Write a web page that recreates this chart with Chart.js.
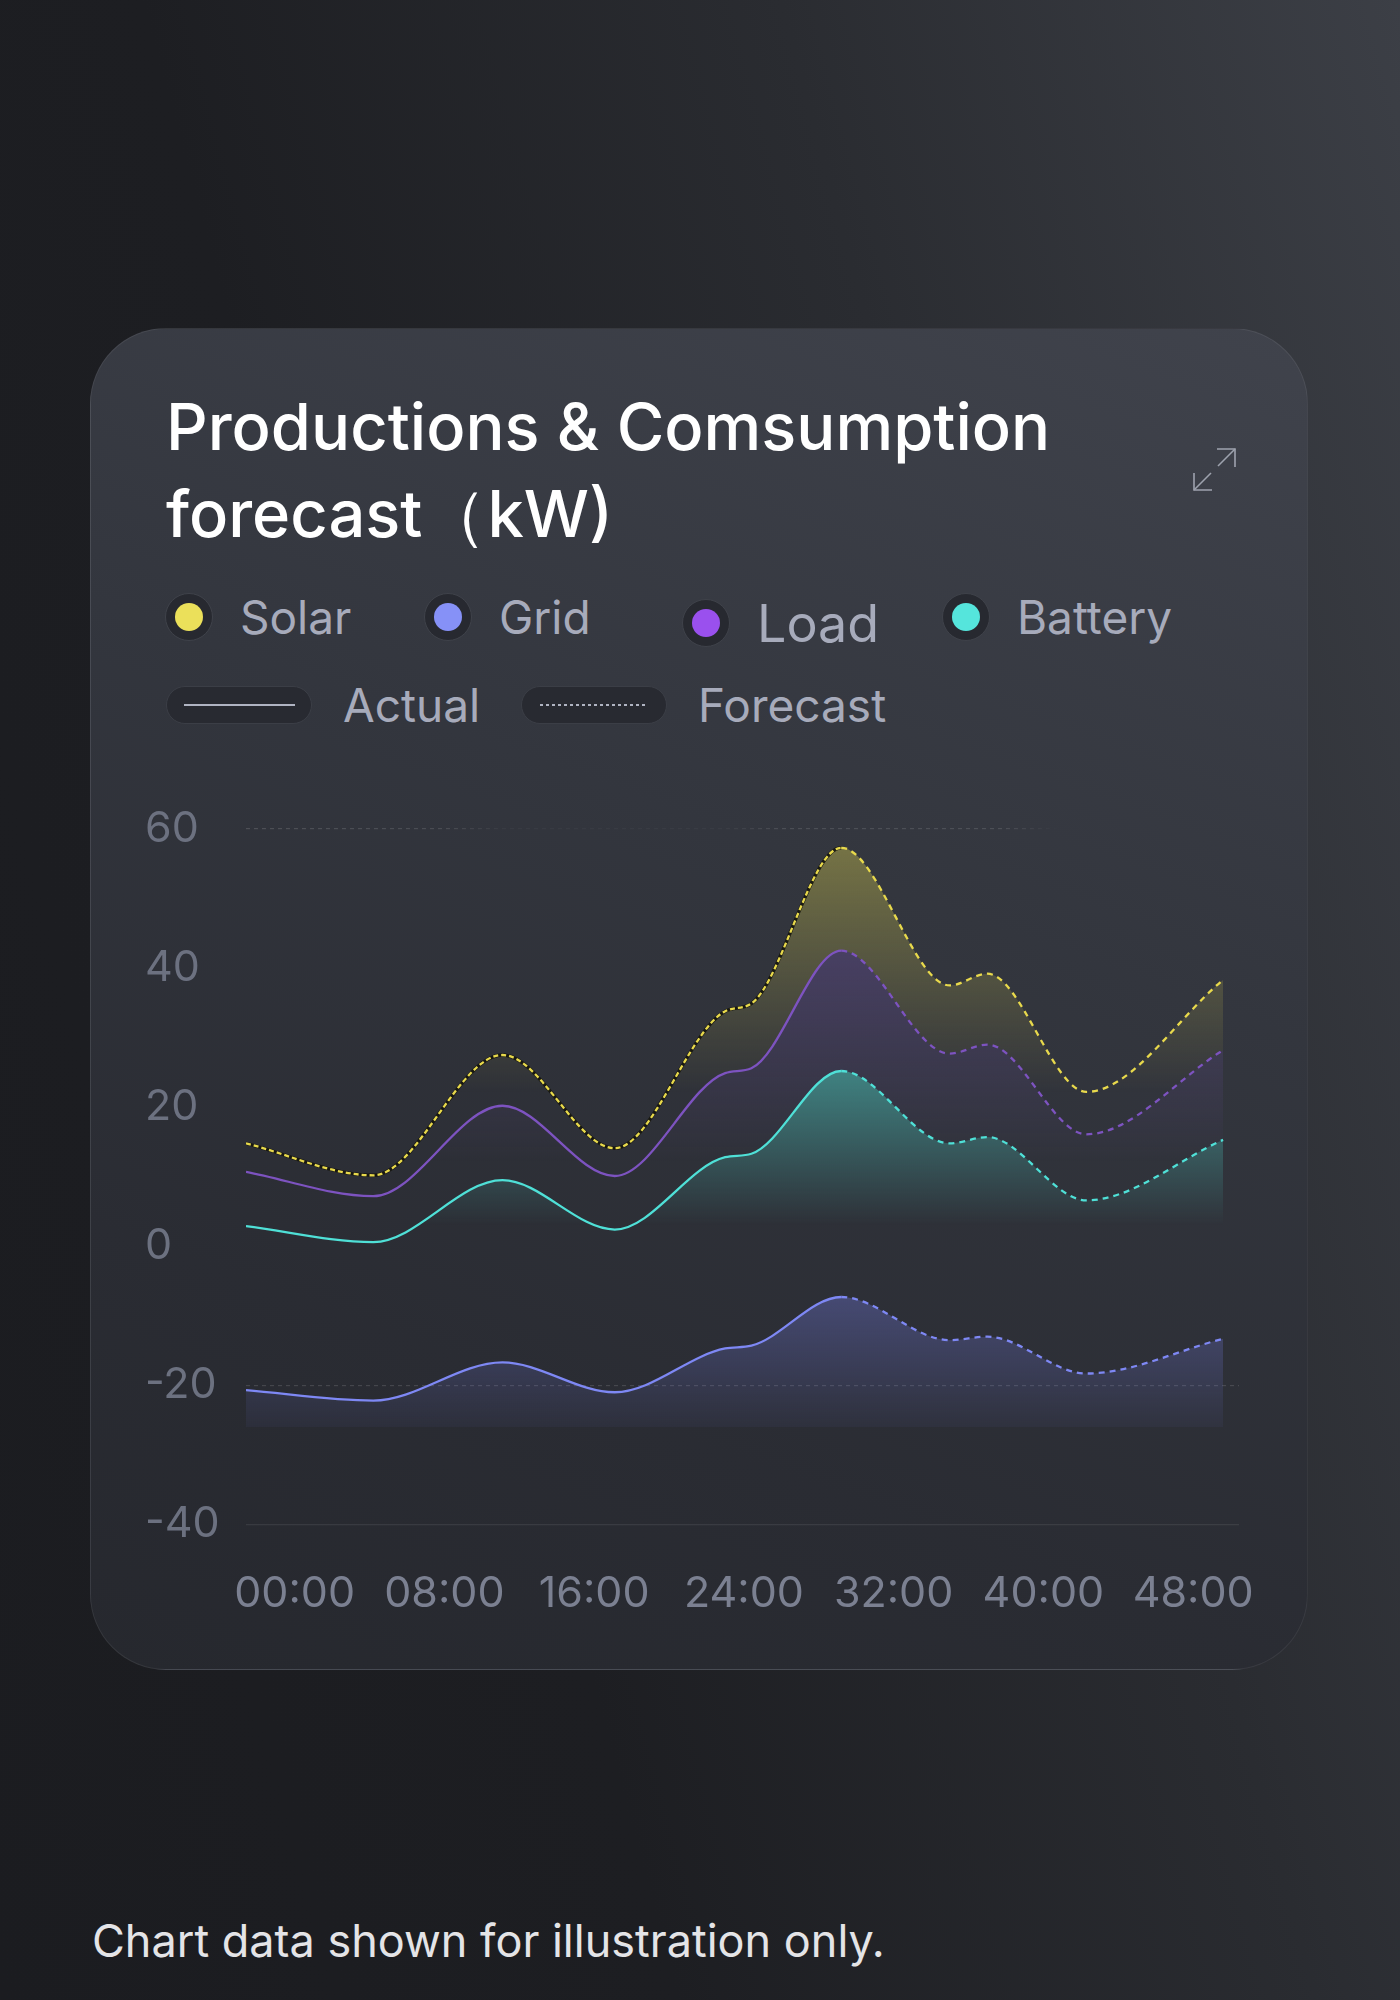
<!DOCTYPE html>
<html>
<head>
<meta charset="utf-8">
<script src="https://cdn.jsdelivr.net/npm/chart.js@4.4.1/dist/chart.umd.min.js"></script>
<style>
  html, body { margin: 0; padding: 0; }
  body {
    width: 1400px; height: 2000px; position: relative; overflow: hidden;
    font-family: Inter, "Noto Sans", sans-serif;
    background: linear-gradient(75deg, #1b1c20 0%, #1d1e22 35%, #2a2c31 68%, #3c3f46 100%);
  }
  .card {
    position: absolute; left: 90px; top: 328px; width: 1218px; height: 1342px;
    box-sizing: border-box; border-radius: 76px;
    border: 1.5px solid rgba(255,255,255,0.07);
    background: linear-gradient(200deg, #40434c 0%, #33363e 40%, #2a2c33 75%, #26282e 100%);
  }
  .title {
    position: absolute; left: 166px; top: 383px;
    font-size: 65px; line-height: 87px; font-weight: 500; color: #ffffff;
  }
  .expand { position: absolute; left: 1185px; top: 441px; }
  .item { position: absolute; height: 48px; display: flex; align-items: center; }
  .ring {
    width: 48px; height: 48px; border-radius: 50%; box-sizing: border-box;
    background: #272930; border: 1.5px solid #3f424a;
    display: flex; align-items: center; justify-content: center; flex: none;
  }
  .dot { width: 28px; height: 28px; border-radius: 50%; }
  .label { margin-left: 27px; font-size: 46px; color: #a7abbb; white-space: nowrap; }
  .pill {
    width: 146px; height: 38px; border-radius: 19px; box-sizing: border-box;
    background: #282a31; border: 1.5px solid #3b3e46; flex: none;
    display: flex; align-items: center; justify-content: center;
  }
  .solid { width: 111px; height: 2px; background: #b0b4c2; }
  .dotted { width: 108px; height: 2px; background: repeating-linear-gradient(90deg, #b0b4c2 0 3px, transparent 3px 6px); }
  .pill + .label { margin-left: 31px; }
  #chartCanvas { position: absolute; left: 145px; top: 796px; }
  .note { position: absolute; left: 92px; top: 1913px; font-size: 45px; line-height: 56px; color: #e4e4e7; }
</style>
</head>
<body>
<div class="card"></div>
<div class="title">Productions &amp; Comsumption<br>forecast（kW)</div>
<svg class="expand" width="60" height="60" viewBox="1185 441 60 60">
  <g stroke="#9ea2ae" stroke-width="1.6" fill="none">
    <polyline points="1217,449 1235,449 1235,467"/>
    <line x1="1235" y1="449" x2="1218" y2="466"/>
    <polyline points="1212,490 1194,490 1194,473"/>
    <line x1="1194" y1="490" x2="1211" y2="473"/>
  </g>
</svg>

<div class="item" style="left:165px; top:593px;"><div class="ring"><div class="dot" style="background:#ebe05a"></div></div><span class="label">Solar</span></div>
<div class="item" style="left:424px; top:593px;"><div class="ring"><div class="dot" style="background:#8691f7"></div></div><span class="label">Grid</span></div>
<div class="item" style="left:682px; top:599px;"><div class="ring"><div class="dot" style="background:#9a50ee"></div></div><span class="label" style="font-size:52px">Load</span></div>
<div class="item" style="left:942px; top:593px;"><div class="ring"><div class="dot" style="background:#55e5dc"></div></div><span class="label">Battery</span></div>

<div class="item" style="left:166px; top:681px;"><div class="pill"><div class="solid"></div></div><span class="label">Actual</span></div>
<div class="item" style="left:521px; top:681px;"><div class="pill"><div class="dotted"></div></div><span class="label">Forecast</span></div>

<canvas id="chartCanvas" width="1145" height="826"></canvas>

<div class="note">Chart data shown for illustration only.</div>

<script>
// time axis in hours, shared by all series
const hours = [-2.6, 4.2, 11.1, 17.1, 23.0, 24.4, 29.2, 35.0, 37.0, 42.3, 49.6];
const solar = [14.8, 10.2, 27.5, 14.1, 33.8, 34.9, 57.3, 37.5, 39.2, 22.2, 38.3];
const load = [10.7, 7.2, 20.2, 10.1, 24.9, 25.6, 42.5, 27.7, 29.0, 16.1, 28.2];
const battery = [2.9, 0.6, 9.5, 2.4, 12.8, 13.3, 25.2, 14.8, 15.7, 6.6, 15.3];
const gridPower = [-20.7, -22.2, -16.7, -21.0, -14.7, -14.3, -7.3, -13.5, -13.0, -18.3, -13.3];

// points from this index on are forecast (dashed)
const forecastFrom = 6;

const xTickHours = [0, 8, 16, 24, 32, 40, 48];
const yMin = -40, yMax = 60, yStep = 20;

const canvas = document.getElementById('chartCanvas');
const ctx = canvas.getContext('2d');

function toPoints(values) {
    return hours.map((h, i) => ({ x: h, y: values[i] }));
}

// vertical fade fill, strongest near the top of the series
function fadeFill(rgb, topVal, bottomVal, alpha, endAlpha) {
    return (c) => {
        const chart = c.chart;
        if (!chart.chartArea) return 'transparent';
        const y = chart.scales.y;
        const g = chart.ctx.createLinearGradient(0, y.getPixelForValue(topVal), 0, y.getPixelForValue(bottomVal));
        g.addColorStop(0, 'rgba(' + rgb + ',' + alpha + ')');
        g.addColorStop(1, 'rgba(' + rgb + ',' + (endAlpha || 0) + ')');
        return g;
    };
}

// the top grid line fades in and out along its length
function topGridColor(chart) {
    const area = chart.chartArea;
    const g = chart.ctx.createLinearGradient(area.left, 0, area.right, 0);
    g.addColorStop(0, 'rgba(255,255,255,0.14)');
    g.addColorStop(0.2, 'rgba(255,255,255,0.12)');
    g.addColorStop(0.26, 'rgba(255,255,255,0.03)');
    g.addColorStop(0.48, 'rgba(255,255,255,0.03)');
    g.addColorStop(0.54, 'rgba(255,255,255,0.12)');
    g.addColorStop(0.76, 'rgba(255,255,255,0.12)');
    g.addColorStop(0.82, 'rgba(255,255,255,0.0)');
    g.addColorStop(1, 'rgba(255,255,255,0.0)');
    return g;
}

const forecastDash = (dash, actualDash) => (c) => c.p0DataIndex >= forecastFrom ? dash : actualDash;

// area under a series, drawn as its own borderless dataset so the fill has no seams
function areaSet(label, values, fill, bg, order) {
    return {
        label: label + ' area',
        data: toPoints(values),
        borderWidth: 0,
        borderColor: 'transparent',
        pointRadius: 0,
        cubicInterpolationMode: 'monotone',
        fill: fill,
        backgroundColor: bg,
        order: order
    };
}

function lineSet(label, values, color, order, actualDash) {
    return {
        label: label,
        data: toPoints(values),
        borderColor: color,
        borderWidth: 2.3,
        pointRadius: 0,
        cubicInterpolationMode: 'monotone',
        fill: false,
        order: order,
        segment: { borderDash: forecastDash([6, 5], actualDash) }
    };
}

// dataset indexes: 0 grid, 1 grid area, 2 battery, 3 battery area,
// 4 load, 5 load area, 6 solar, 7 solar backing, 8 solar area
const datasets = [
    lineSet('Grid', gridPower, '#7e88f4', 1),
    areaSet('Grid', gridPower, { value: -26 }, fadeFill('120,128,235', -7, -26, 0.34, 0.05), 2),
    lineSet('Battery', battery, '#4fe0d7', 3),
    areaSet('Battery', battery, 'start', fadeFill('80,215,205', 26, 3, 0.5), 4),
    lineSet('Load', load, '#7d53c0', 5),
    areaSet('Load', load, 3, fadeFill('125,90,190', 43, 12, 0.3), 6),
    lineSet('Solar', solar, '#e8d94c', 7, [5, 3]),
    {
        // dark backing behind the dashed actual solar line
        label: 'Solar backing',
        data: toPoints(solar),
        borderColor: 'rgba(22,22,14,0.9)',
        borderWidth: 3.4,
        pointRadius: 0,
        cubicInterpolationMode: 'monotone',
        fill: false,
        order: 8,
        segment: { borderColor: (c) => c.p0DataIndex >= forecastFrom ? 'transparent' : undefined }
    },
    areaSet('Solar', solar, 5, fadeFill('215,205,80', 57, 22, 0.4), 9)
];

const chart = new Chart(ctx, {
    type: 'line',
    data: { datasets: datasets },
    options: {
        responsive: false,
        animation: false,
        layout: { padding: { top: 33, right: 51, bottom: 0, left: 0 } },
        plugins: { legend: { display: false }, tooltip: { enabled: false } },
        scales: {
            x: {
                type: 'linear',
                min: hours[0],
                max: 50.45,
                afterBuildTicks: (scale) => { scale.ticks = xTickHours.map(v => ({ value: v })); },
                grid: { display: false, drawTicks: true, tickLength: 42 },
                border: { display: false },
                ticks: {
                    color: '#7b8091',
                    font: { family: 'Inter', size: 43 },
                    padding: 2,
                    maxRotation: 0,
                    autoSkip: false,
                    callback: (v) => String(v).padStart(2, '0') + ':00'
                }
            },
            y: {
                min: yMin,
                max: yMax,
                afterFit: (scale) => { scale.width = 101; },
                grid: {
                    drawTicks: false,
                    lineWidth: 1.2,
                    color: (c) => {
                        const v = c.tick ? c.tick.value : null;
                        if (v === yMin) return 'rgba(255,255,255,0.08)';
                        if (v === -20) return 'rgba(255,255,255,0.13)';
                        if (v === yMax && c.chart.chartArea) return topGridColor(c.chart);
                        return 'transparent';
                    }
                },
                border: {
                    display: false,
                    dash: (c) => (c.tick && c.tick.value === yMin) ? [] : [4, 4]
                },
                ticks: {
                    stepSize: yStep,
                    color: '#6c7180',
                    crossAlign: 'far',
                    padding: 0,
                    font: { family: 'Inter', size: 43 }
                }
            }
        }
    }
});
</script>
</body>
</html>
